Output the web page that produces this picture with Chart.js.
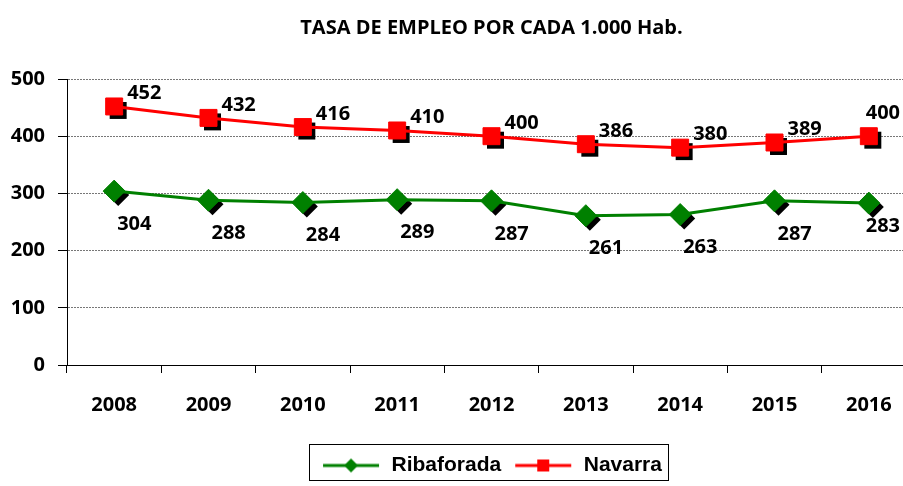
<!DOCTYPE html>
<html lang="es">
  <head>
    <meta charset="UTF-8" />
    <title>Tasa de empleo</title>
    <script src="https://cdn.jsdelivr.net/npm/chart.js@4.4.1/dist/chart.umd.min.js"></script>
    <style>
      html, body { margin: 0; padding: 0; background: #fff; overflow: hidden; }
      .wrap { width: 929px; height: 486px; }
    </style>
  </head>
  <body>
    <div class="wrap"><canvas id="chart" width="929" height="486"></canvas></div>
    <script>
      const years = ['2008', '2009', '2010', '2011', '2012', '2013', '2014', '2015', '2016'];
      const ribaforada = [304, 288, 284, 289, 287, 261, 263, 287, 283];
      const navarra = [452, 432, 416, 410, 400, 386, 380, 389, 400];
      const yTicks = [0, 100, 200, 300, 400, 500];

      const GREEN = '#008000';
      const RED = '#ff0000';
      const FONT = "'Open Sans', 'Liberation Sans', sans-serif";
      const VISIBLE_RIGHT = 900;

      // little line + marker images for the legend
      let legendIcon = (color, style) => {
        let c = document.createElement('canvas');
        c.width = 60; c.height = 16;
        let ctx = c.getContext('2d');
        ctx.strokeStyle = color;
        ctx.lineWidth = 3;
        ctx.beginPath();
        ctx.moveTo(2, 8); ctx.lineTo(58, 8);
        ctx.stroke();
        ctx.fillStyle = color;
        if (style === 'rect') {
          ctx.fillRect(24, 2, 12, 12);
        } else {
          ctx.beginPath();
          ctx.moveTo(30, 1); ctx.lineTo(37, 8); ctx.lineTo(30, 15); ctx.lineTo(23, 8);
          ctx.closePath();
          ctx.fill();
        }
        return c;
      };

      // black drop shadow under markers
      const markerShadow = {
        id: 'markerShadow',
        beforeDatasetDraw(chart, args) {
          let ds = chart.data.datasets[args.index];
          let ctx = chart.ctx;
          ctx.save();
          ctx.fillStyle = '#000';
          args.meta.data.forEach(pt => {
            Chart.helpers.drawPoint(ctx, {
              pointStyle: ds.pointStyle, radius: ds.pointRadius, rotation: 0, borderWidth: 0
            }, pt.x + 4, pt.y + 4);
          });
          ctx.restore();
        }
      };

      // value labels next to the points
      const valueLabels = {
        id: 'valueLabels',
        afterDatasetsDraw(chart) {
          let ctx = chart.ctx;
          ctx.save();
          ctx.font = 'bold 20px ' + FONT;
          ctx.fillStyle = '#000';
          ctx.textAlign = 'left';
          ctx.textBaseline = 'middle';
          chart.data.datasets.forEach((ds, i) => {
            let meta = chart.getDatasetMeta(i);
            let above = ds.label === 'Navarra';
            meta.data.forEach((pt, j) => {
              let txt = String(ds.data[j]);
              let w = ctx.measureText(txt).width;
              let x = pt.x + (above ? 13 : 3);
              let y = pt.y + (above ? -13 : 33);
              // keep the label inside the visible window
              if (x + w > VISIBLE_RIGHT) {
                x = VISIBLE_RIGHT - w;
                if (above) y -= 10; else y -= 10;
              }
              ctx.fillText(txt, x, y);
            });
          });
          ctx.restore();
        }
      };

      // frame round the legend
      const legendFrame = {
        id: 'legendFrame',
        afterDraw(chart) {
          let boxes = chart.legend.legendHitBoxes;
          if (!boxes || !boxes.length) return;
          let first = boxes[0], last = boxes[boxes.length - 1];
          let ctx = chart.ctx;
          ctx.save();
          ctx.strokeStyle = '#000';
          ctx.lineWidth = 1;
          let top = chart.legend.top + 1;
          ctx.strokeRect(Math.round(first.left - 12) + 0.5, Math.round(top) + 0.5,
            Math.round(last.left + last.width - first.left + 18), 36);
          ctx.restore();
        }
      };

      new Chart(document.getElementById('chart'), {
        type: 'line',
        data: {
          labels: years,
          datasets: [
            {
              label: 'Ribaforada',
              data: ribaforada,
              borderColor: GREEN,
              backgroundColor: GREEN,
              borderWidth: 3,
              pointStyle: 'rectRot',
              pointRadius: 11,
              pointBorderWidth: 1,
              pointBorderColor: GREEN,
              tension: 0
            },
            {
              label: 'Navarra',
              data: navarra,
              borderColor: RED,
              backgroundColor: RED,
              borderWidth: 3,
              pointStyle: 'rect',
              pointRadius: 12,
              pointBorderWidth: 1,
              pointBorderColor: RED,
              tension: 0
            }
          ]
        },
        options: {
          responsive: false,
          animation: false,
          layout: { padding: { left: 0, right: 5, top: 0, bottom: 0 } },
          plugins: {
            tooltip: { enabled: false },
            title: {
              display: true,
              fullSize: false,
              text: 'TASA DE EMPLEO POR CADA 1.000 Hab.',
              color: '#000',
              font: { family: FONT, size: 20, weight: 'bold' },
              padding: { top: 16, bottom: 39 }
            },
            legend: {
              position: 'bottom',
              fullSize: false,
              labels: {
                color: '#000',
                font: { family: "'Liberation Sans', Arial, sans-serif", size: 21, weight: 'bold' },
                usePointStyle: true,
                pointStyleWidth: 60,
                padding: 12,
                generateLabels: chart => chart.data.datasets.map((ds, i) => ({
                  text: ds.label,
                  pointStyle: legendIcon(ds.borderColor, ds.pointStyle),
                  fontColor: '#000',
                  datasetIndex: i,
                  lineWidth: 0
                }))
              }
            }
          },
          scales: {
            x: {
              offset: true,
              afterFit: s => { s.height = 78; },
              grid: { offset: true, drawOnChartArea: false, drawTicks: true, tickLength: 8, tickColor: '#000' },
              border: { color: '#000', width: 1 },
              ticks: {
                color: '#000',
                padding: 20,
                font: { family: FONT, size: 20, weight: 'bold' }
              }
            },
            y: {
              min: 0,
              max: 500,
              afterFit: s => { s.width = 67; },
              afterBuildTicks: s => { s.ticks = yTicks.map(v => ({ value: v })); },
              grid: { color: '#777', lineWidth: 1, tickLength: 9, tickColor: '#000', tickBorderDash: [] },
              border: { color: '#000', width: 1, dash: [2, 1] },
              ticks: {
                color: '#000',
                padding: 13,
                font: { family: FONT, size: 20, weight: 'bold' }
              }
            }
          }
        },
        plugins: [markerShadow, valueLabels, legendFrame]
      });
    </script>
  </body>
</html>
